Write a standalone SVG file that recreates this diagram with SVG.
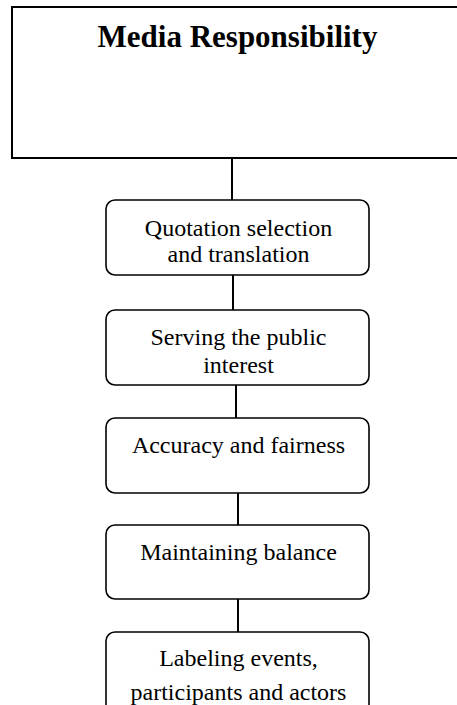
<svg xmlns="http://www.w3.org/2000/svg" width="457" height="705" viewBox="0 0 457 705">
<style>
.title{font-family:"Liberation Serif","Times New Roman",serif;font-weight:bold;font-size:31px;fill:#000}
.lbl{font-family:"Liberation Serif","Times New Roman",serif;font-size:24px;fill:#000}
.box{fill:#fff;stroke:#000;stroke-width:1.6}
.conn{stroke:#000;stroke-width:2;fill:none}
</style>
<rect width="457" height="705" fill="#fff"/>
<g id="connectors">
<line class="conn" x1="232" y1="158" x2="232" y2="200"/>
<line class="conn" x1="233" y1="275" x2="233" y2="310"/>
<line class="conn" x1="236" y1="385" x2="236" y2="418"/>
<line class="conn" x1="238" y1="493" x2="238" y2="525"/>
<line class="conn" x1="238" y1="599" x2="238" y2="632"/>
</g>
<g id="media-responsibility">
<rect x="12" y="7" width="460" height="151" fill="#fff" stroke="#000" stroke-width="2"/>
<text class="title" x="237.5" y="47" text-anchor="middle">Media Responsibility</text>
</g>
<g id="quotation">
<rect class="box" x="106" y="200" width="263" height="75" rx="9"/>
<text class="lbl" x="238.5" y="236" text-anchor="middle">Quotation selection</text>
<text class="lbl" x="238.5" y="262" text-anchor="middle">and translation</text>
</g>
<g id="public-interest">
<rect class="box" x="106" y="310" width="263" height="75" rx="9"/>
<text class="lbl" x="238.5" y="345" text-anchor="middle">Serving the public</text>
<text class="lbl" x="238.5" y="373" text-anchor="middle">interest</text>
</g>
<g id="accuracy">
<rect class="box" x="106" y="418" width="263" height="75" rx="9"/>
<text class="lbl" x="238.5" y="453" text-anchor="middle">Accuracy and fairness</text>
</g>
<g id="balance">
<rect class="box" x="106" y="525" width="263" height="74" rx="9"/>
<text class="lbl" x="238.5" y="560" text-anchor="middle">Maintaining balance</text>
</g>
<g id="labeling">
<rect class="box" x="106" y="632" width="263" height="90" rx="9"/>
<text class="lbl" x="238.5" y="666" text-anchor="middle">Labeling events,</text>
<text class="lbl" x="238.5" y="700" text-anchor="middle">participants and actors</text>
</g>
</svg>
